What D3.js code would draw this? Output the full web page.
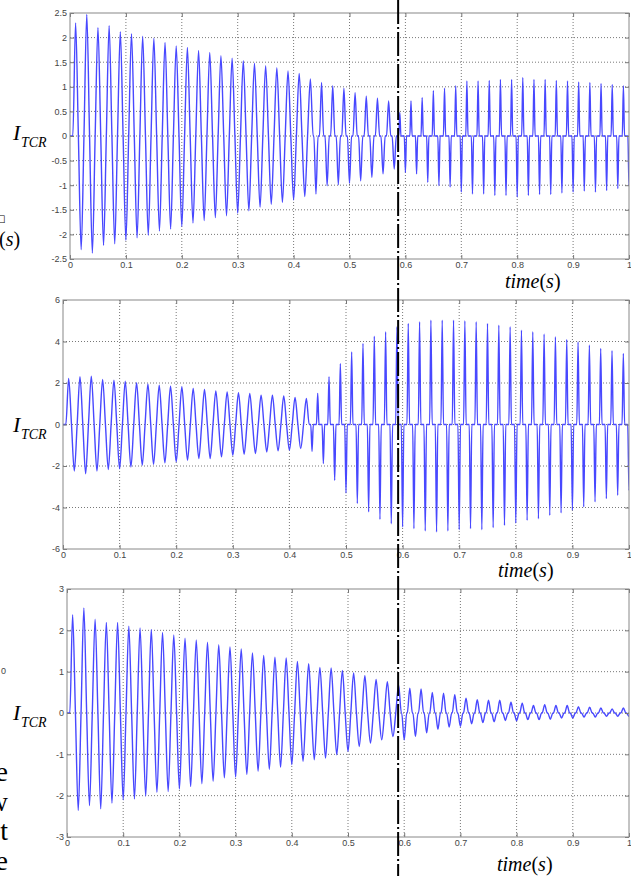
<!DOCTYPE html>
<html>
<head>
<meta charset="utf-8">
<script src="https://cdn.jsdelivr.net/npm/d3@7"></script>
<style>
  body { margin: 0; background: #fff; }
  svg { display: block; }
  .tick text { font-family: "Liberation Sans", Arial, sans-serif; font-size: 9px; fill: #444; }
  .tick line { stroke: #777; }
  .serif { font-family: "Liberation Serif", "Times New Roman", serif; fill: #000; }
</style>
</head>
<body>
<script>
// time ticks shared by the three panels
const xTicks = [0, 0.1, 0.2, 0.3, 0.4, 0.5, 0.6, 0.7, 0.8, 0.9, 1]
const yTicks1 = [-2.5, -2, -1.5, -1, -0.5, 0, 0.5, 1, 1.5, 2, 2.5]
const yTicks2 = [-6, -4, -2, 0, 2, 4, 6]
const yTicks3 = [-3, -2, -1, 0, 1, 2, 3]

// peak of each positive / negative half cycle (50 Hz, one value per cycle)
const pos1 = [2.30, 2.47, 2.20, 2.24, 2.12, 2.08, 2.03, 1.99, 1.90, 1.83,
  1.80, 1.74, 1.70, 1.63, 1.58, 1.53, 1.48, 1.43, 1.39, 1.32,
  1.27, 1.16, 1.09, 1.02, 0.97, 0.88, 0.81, 0.77, 0.71, 0.48,
  0.71, 0.78, 0.92, 0.97, 1.02, 1.12, 1.12, 1.13, 1.15, 1.15,
  1.19, 1.15, 1.15, 1.13, 1.12, 1.10, 1.09, 1.07, 1.05, 1.02]
const neg1 = [-2.31, -2.38, -2.22, -2.19, -2.12, -2.07, -2.02, -1.93, -1.89, -1.84,
  -1.77, -1.72, -1.66, -1.62, -1.57, -1.52, -1.45, -1.39, -1.35, -1.30,
  -1.23, -1.18, -1.01, -0.99, -0.96, -0.91, -0.84, -0.77, -0.67, -0.74,
  -0.77, -0.94, -1.01, -1.04, -1.14, -1.18, -1.18, -1.21, -1.21, -1.24,
  -1.21, -1.19, -1.19, -1.16, -1.14, -1.12, -1.14, -1.11, -1.07, -1.01]

const pos2 = [2.22, 2.30, 2.33, 2.17, 2.14, 2.09, 2.01, 1.95, 1.90, 1.85,
  1.82, 1.74, 1.69, 1.62, 1.57, 1.53, 1.50, 1.41, 1.41, 1.37,
  1.30, 1.25, 1.50, 2.30, 2.94, 3.50, 3.91, 4.26, 4.47, 4.71,
  4.87, 4.95, 5.03, 5.03, 5.03, 5.00, 4.95, 4.87, 4.79, 4.71,
  4.55, 4.47, 4.36, 4.23, 4.10, 3.99, 3.83, 3.67, 3.56, 3.43]
const neg2 = [-2.24, -2.37, -2.24, -2.17, -2.13, -2.05, -1.96, -1.92, -1.85, -1.80,
  -1.72, -1.64, -1.64, -1.56, -1.48, -1.43, -1.40, -1.32, -1.27, -1.24,
  -1.16, -1.30, -1.88, -2.69, -3.30, -3.81, -4.21, -4.58, -4.78, -4.94,
  -5.02, -5.13, -5.18, -5.13, -5.07, -5.02, -5.07, -4.97, -4.86, -4.75,
  -4.62, -4.54, -4.38, -4.26, -4.13, -3.97, -3.73, -3.57, -3.41, -3.17]

const pos3 = [2.38, 2.54, 2.27, 2.19, 2.19, 2.10, 2.06, 2.02, 1.95, 1.89,
  1.81, 1.77, 1.71, 1.65, 1.60, 1.55, 1.45, 1.39, 1.35, 1.33,
  1.25, 1.19, 1.10, 1.09, 1.03, 0.97, 0.90, 0.81, 0.76, 0.68,
  0.60, 0.58, 0.50, 0.48, 0.44, 0.36, 0.32, 0.31, 0.31, 0.26,
  0.24, 0.18, 0.20, 0.18, 0.18, 0.15, 0.14, 0.12, 0.10, 0.12]
const neg3 = [-2.36, -2.24, -2.32, -2.18, -2.10, -2.08, -2.01, -1.92, -1.90, -1.84,
  -1.78, -1.71, -1.65, -1.57, -1.55, -1.49, -1.41, -1.36, -1.31, -1.25,
  -1.17, -1.13, -1.09, -1.01, -0.93, -0.81, -0.73, -0.65, -0.57, -0.65,
  -0.57, -0.48, -0.39, -0.34, -0.32, -0.26, -0.23, -0.21, -0.18, -0.19,
  -0.16, -0.16, -0.15, -0.12, -0.12, -0.10, -0.10, -0.08, -0.08, -0.08]

// conduction: [from t, to t, share of the half cycle that conducts]
const cond1 = [[0, 0.44, 1], [0.44, 0.59, 0.75], [0.59, 1.01, 0.4]]
const cond2 = [[0, 0.44, 1], [0.44, 1.01, 0.45]]
const cond3 = [[0, 0.6, 1], [0.6, 1.01, 0.9]]

const switchTime = 0.587

const panels = [
  {pos: pos1, neg: neg1, cond: cond1, yTicks: yTicks1, x0: 70, x1: 629, y0: 13, y1: 259, lab: 140, tx: 505, ty: 288},
  {pos: pos2, neg: neg2, cond: cond2, yTicks: yTicks2, x0: 63, x1: 629, y0: 300, y1: 549, lab: 432, tx: 498, ty: 577},
  {pos: pos3, neg: neg3, cond: cond3, yTicks: yTicks3, x0: 67, x1: 629, y0: 589, y1: 837, lab: 720, tx: 497, ty: 871}
]

const fmt = v => String(+v.toFixed(2))

const svg = d3.select('body').append('svg')
  .attr('width', 631)
  .attr('height', 876)

function wavePoints (pos, neg, cond) {
  const pts = [[0, 0]]
  for (let k = 0; k < pos.length; k++) {
    for (let h = 0; h < 2; h++) {
      const c = 0.01 + 0.02 * k + 0.01 * h
      const f = cond.find(s => c >= s[0] && c < s[1])[2]
      const w = 0.005 * f
      const pk = h ? neg[k] : pos[k]
      ;[[c - w, 0], [c, pk], [c + w, 0]].forEach(p => {
        const last = pts[pts.length - 1]
        if (p[0] - last[0] > 1e-9) pts.push(p)
      })
    }
  }
  return pts
}

panels.forEach((p, i) => {
  const x = d3.scaleLinear().domain([0, 1]).range([p.x0, p.x1])
  const y = d3.scaleLinear().domain(d3.extent(p.yTicks)).range([p.y1, p.y0])
  const g = svg.append('g')

  // grid
  g.selectAll('line.gx').data(xTicks.slice(1, -1)).join('line')
    .attr('x1', d => x(d)).attr('x2', d => x(d))
    .attr('y1', p.y0).attr('y2', p.y1)
  g.selectAll('line.gy').data(p.yTicks.slice(1, -1)).join('line')
    .attr('x1', p.x0).attr('x2', p.x1)
    .attr('y1', d => y(d)).attr('y2', d => y(d))
  g.selectAll('line')
    .attr('stroke', '#555').attr('stroke-width', 0.8).attr('stroke-dasharray', '1,2')

  // waveform
  svg.append('clipPath').attr('id', 'clip' + i)
    .append('rect').attr('x', p.x0).attr('y', p.y0)
    .attr('width', p.x1 - p.x0).attr('height', p.y1 - p.y0)
  const line = d3.line().x(d => x(d[0])).y(d => y(d[1])).curve(d3.curveMonotoneX)
  g.append('path')
    .attr('clip-path', `url(#clip${i})`)
    .attr('d', line(wavePoints(p.pos, p.neg, p.cond)))
    .attr('fill', 'none')
    .attr('stroke', '#4848ff')
    .attr('stroke-width', 1.4)
    .attr('stroke-linejoin', 'round')

  // axes, ticks inside like MATLAB
  const noDomain = a => a.select('.domain').remove()
  g.append('g').attr('transform', `translate(0,${p.y1})`)
    .call(d3.axisBottom(x).tickValues(xTicks).tickSize(-4).tickPadding(3).tickFormat(fmt))
    .call(noDomain)
  g.append('g').attr('transform', `translate(0,${p.y0})`)
    .call(d3.axisTop(x).tickValues(xTicks).tickSize(-4).tickFormat(''))
    .call(noDomain)
  g.append('g').attr('transform', `translate(${p.x0},0)`)
    .call(d3.axisLeft(y).tickValues(p.yTicks).tickSize(-4).tickPadding(3).tickFormat(fmt))
    .call(noDomain)
  g.append('g').attr('transform', `translate(${p.x1},0)`)
    .call(d3.axisRight(y).tickValues(p.yTicks).tickSize(-4).tickFormat(''))
    .call(noDomain)

  g.append('rect')
    .attr('x', p.x0).attr('y', p.y0)
    .attr('width', p.x1 - p.x0).attr('height', p.y1 - p.y0)
    .attr('fill', 'none').attr('stroke', '#888').attr('stroke-width', 1)

  // y label
  g.append('text').attr('class', 'serif')
    .attr('x', 13).attr('y', p.lab)
    .style('font-size', '22px').style('font-style', 'italic')
    .text('I')
  g.append('text').attr('class', 'serif')
    .attr('x', 21).attr('y', p.lab + 7)
    .style('font-size', '14px').style('font-style', 'italic')
    .text('TCR')

  // x label
  const t = g.append('text').attr('class', 'serif')
    .attr('x', p.tx).attr('y', p.ty)
    .style('font-size', '20px')
  t.append('tspan').style('font-style', 'italic').text('time')
  t.append('tspan').text('(')
  t.append('tspan').style('font-style', 'italic').text('s')
  t.append('tspan').text(')')
})

// switching instant, dash-dot across the whole figure
const xs = d3.scaleLinear().domain([0, 1]).range([panels[0].x0, panels[0].x1])
svg.append('line')
  .attr('x1', xs(switchTime)).attr('x2', xs(switchTime))
  .attr('y1', 0).attr('y2', 876)
  .attr('stroke', '#000').attr('stroke-width', 2)
  .attr('stroke-dasharray', '24,3,2,3')

// cut-off text from the neighbouring column
svg.append('text').attr('class', 'serif')
  .attr('x', -4).attr('y', 222)
  .style('font-family', '"DejaVu Sans", sans-serif').style('font-size', '10px')
  .text('\u25A1')
const s = svg.append('text').attr('class', 'serif')
  .attr('x', -1).attr('y', 246).style('font-size', '20px')
s.append('tspan').text('(')
s.append('tspan').style('font-style', 'italic').text('s')
s.append('tspan').text(')')

svg.append('text')
  .attr('x', 1).attr('y', 674)
  .style('font-family', '"Liberation Sans", Arial, sans-serif')
  .style('font-size', '9px').style('fill', '#444')
  .text('0')

const tail = ['e', 'w', 't', 'e']
svg.selectAll('text.tail').data(tail).join('text')
  .attr('class', 'serif')
  .attr('x', 8).attr('y', (d, i) => 781 + i * 29.5)
  .attr('text-anchor', 'end')
  .style('font-size', '28px')
  .text(d => d)
</script>
</body>
</html>
